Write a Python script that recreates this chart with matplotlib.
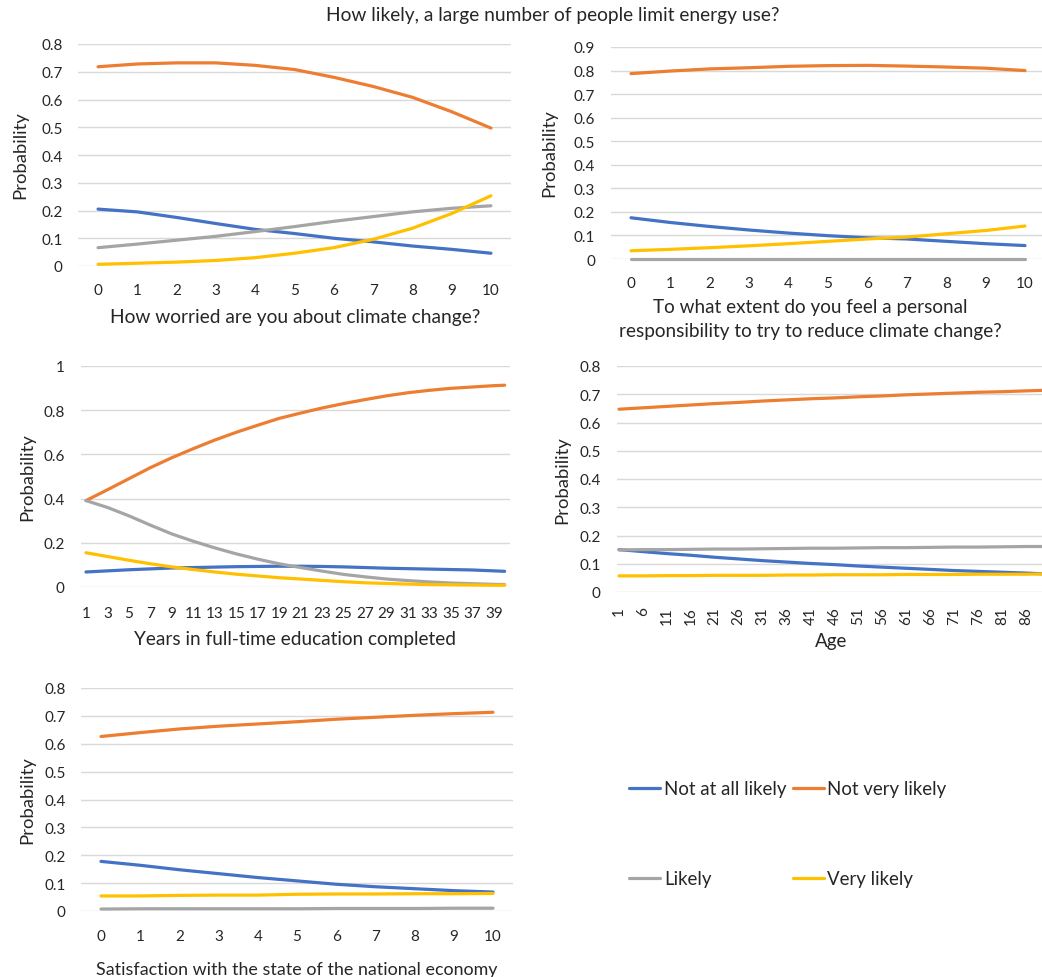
import matplotlib
matplotlib.use("Agg")
import matplotlib.pyplot as plt

plt.rcParams["font.family"] = ["Lato", "DejaVu Sans"]

W, H = 1042, 978
TEXT = "#262626"

series_names = ["Not at all likely", "Not very likely", "Likely", "Very likely"]
series_colors = ["#4472C4", "#ED7D31", "#A5A5A5", "#FFC000"]

# panel 1: worry about climate change (0-10)
worry_x = list(range(11))
worry_not_at_all = [0.205, 0.195, 0.175, 0.153, 0.132, 0.117, 0.100, 0.087, 0.072, 0.060, 0.046]
worry_not_very = [0.718, 0.728, 0.732, 0.732, 0.723, 0.708, 0.680, 0.647, 0.608, 0.556, 0.497]
worry_likely = [0.066, 0.079, 0.093, 0.107, 0.124, 0.142, 0.161, 0.178, 0.195, 0.208, 0.217]
worry_very = [0.006, 0.010, 0.014, 0.020, 0.030, 0.046, 0.066, 0.096, 0.136, 0.189, 0.253]

# panel 2: personal responsibility (0-10)
resp_x = list(range(11))
resp_not_at_all = [0.175, 0.155, 0.138, 0.123, 0.110, 0.099, 0.090, 0.085, 0.075, 0.065, 0.057]
resp_not_very = [0.787, 0.798, 0.807, 0.812, 0.818, 0.821, 0.822, 0.819, 0.815, 0.810, 0.800]
resp_likely = [0.002, 0.002, 0.002, 0.002, 0.002, 0.002, 0.002, 0.002, 0.002, 0.002, 0.002]
resp_very = [0.035, 0.041, 0.048, 0.056, 0.065, 0.075, 0.085, 0.093, 0.107, 0.121, 0.140]

# panel 3: years in full-time education
edu_x = [1, 3, 5, 7, 9, 11, 13, 15, 17, 19, 21, 23, 25, 27, 29, 31, 33, 35, 37, 39, 40]
edu_not_at_all = [0.068, 0.073, 0.078, 0.082, 0.086, 0.088, 0.090, 0.092, 0.093, 0.094, 0.094,
                  0.093, 0.091, 0.088, 0.085, 0.083, 0.081, 0.079, 0.077, 0.073, 0.071]
edu_not_very = [0.391, 0.440, 0.490, 0.540, 0.585, 0.626, 0.665, 0.700, 0.732, 0.763, 0.787,
                0.810, 0.830, 0.848, 0.865, 0.879, 0.890, 0.899, 0.905, 0.911, 0.913]
edu_likely = [0.391, 0.360, 0.322, 0.280, 0.240, 0.207, 0.177, 0.150, 0.126, 0.105, 0.088,
              0.072, 0.057, 0.046, 0.036, 0.029, 0.023, 0.018, 0.015, 0.012, 0.011]
edu_very = [0.155, 0.138, 0.121, 0.105, 0.091, 0.079, 0.068, 0.058, 0.050, 0.042, 0.036,
            0.030, 0.024, 0.019, 0.016, 0.013, 0.011, 0.010, 0.009, 0.008, 0.008]

# panel 4: age
age_x = [1, 6, 11, 16, 21, 26, 31, 36, 41, 46, 51, 56, 61, 66, 71, 76, 81, 86, 90]
age_not_at_all = [0.150, 0.143, 0.136, 0.130, 0.123, 0.117, 0.111, 0.106, 0.101, 0.097,
                  0.092, 0.088, 0.084, 0.080, 0.076, 0.073, 0.070, 0.067, 0.064]
age_not_very = [0.647, 0.652, 0.657, 0.662, 0.667, 0.671, 0.676, 0.680, 0.684, 0.687,
                0.691, 0.694, 0.698, 0.701, 0.704, 0.707, 0.709, 0.712, 0.714]
age_likely = [0.149, 0.150, 0.150, 0.151, 0.152, 0.152, 0.153, 0.154, 0.155, 0.155,
              0.156, 0.157, 0.157, 0.158, 0.159, 0.159, 0.160, 0.161, 0.161]
age_very = [0.057, 0.057, 0.058, 0.058, 0.059, 0.059, 0.059, 0.060, 0.060, 0.061,
            0.061, 0.061, 0.062, 0.062, 0.062, 0.063, 0.063, 0.063, 0.064]

# panel 5: satisfaction with national economy (0-10)
econ_x = list(range(11))
econ_not_at_all = [0.178, 0.164, 0.148, 0.134, 0.120, 0.108, 0.096, 0.087, 0.080, 0.073, 0.068]
econ_not_very = [0.626, 0.640, 0.653, 0.663, 0.671, 0.679, 0.688, 0.695, 0.702, 0.708, 0.713]
econ_likely = [0.007, 0.008, 0.008, 0.008, 0.008, 0.008, 0.009, 0.009, 0.009, 0.010, 0.010]
econ_very = [0.054, 0.054, 0.056, 0.057, 0.057, 0.060, 0.061, 0.061, 0.062, 0.062, 0.063]


fig = plt.figure(figsize=(W / 100, H / 100), dpi=100)


def px_axes(left, right, top, bottom):
    return fig.add_axes([left / W, 1 - bottom / H, (right - left) / W, (bottom - top) / H])


def fmt(v):
    return f"{v:g}"


def draw_panel(box, x, ys, xlim, yticks, xticks, rot=0, xpad=12):
    ax = px_axes(*box)
    lines = []
    for y, c in zip(ys, series_colors):
        (ln,) = ax.plot(x, y, color=c, lw=2.3, solid_capstyle="round", clip_on=False)
        lines.append(ln)
    ax.set_xlim(*xlim)
    ax.set_ylim(yticks[0], yticks[-1])
    ax.set_yticks(yticks)
    ax.set_yticklabels([fmt(v) for v in yticks])
    ax.set_xticks(xticks)
    ax.set_xticklabels([str(v) for v in xticks], rotation=rot)
    ax.grid(axis="y", color="#D9D9D9", lw=1.0)
    ax.set_axisbelow(True)
    for s in ax.spines.values():
        s.set_visible(False)
    ax.tick_params(length=0, labelsize=11, labelcolor=TEXT)
    ax.tick_params(axis="y", pad=11.5)
    ax.tick_params(axis="x", pad=xpad)
    return ax, lines


def ftext(x, y, s, **kw):
    kw.setdefault("ha", "center")
    kw.setdefault("va", "center")
    kw.setdefault("fontsize", 13.6)
    kw.setdefault("color", TEXT)
    fig.text(x / W, 1 - y / H, s, **kw)


yt8 = [0, 0.1, 0.2, 0.3, 0.4, 0.5, 0.6, 0.7, 0.8]
yt9 = yt8 + [0.9]

ax1, lines = draw_panel((78.4, 510.6, 45, 267), worry_x,
                        [worry_not_at_all, worry_not_very, worry_likely, worry_very],
                        (-0.5, 10.5), yt8, worry_x)
draw_panel((611.3, 1044.7, 48, 260), resp_x,
           [resp_not_at_all, resp_not_very, resp_likely, resp_very],
           (-0.5, 10.5), yt9, resp_x)
draw_panel((80.6, 510, 367, 588), edu_x,
           [edu_not_at_all, edu_not_very, edu_likely, edu_very],
           (0.5, 40.5), [0, 0.2, 0.4, 0.6, 0.8, 1], list(range(1, 40, 2)), xpad=13.5)
draw_panel((616.6, 1047.3, 367, 593), age_x,
           [age_not_at_all, age_not_very, age_likely, age_very],
           (0.5, 90.5), yt8, list(range(1, 87, 5)), rot=90, xpad=10)
draw_panel((81.4, 512.6, 689, 912), econ_x,
           [econ_not_at_all, econ_not_very, econ_likely, econ_very],
           (-0.5, 10.5), yt8, econ_x, xpad=13)

ftext(553, 15, "How likely, a large number of people limit energy use?", fontsize=13.8)

ftext(295, 318, "How worried are you about climate change?", fontsize=13.8)
ftext(810, 307, "To what extent do you feel a personal")
ftext(810, 332, "responsibility to try to reduce climate change?")
ftext(295, 640, "Years in full-time education completed", fontsize=13.7)
ftext(831, 642, "Age", fontsize=13.5)
ftext(297, 970, "Satisfaction with the state of the national economy", fontsize=12.9)

for x, y in [(20, 155), (549, 153), (27, 477), (562, 480), (27, 800)]:
    ftext(x, y, "Probability", rotation=90, fontsize=13.3)

order = [0, 2, 1, 3]
fig.legend([lines[i] for i in order], [series_names[i] for i in order],
           ncol=2, loc="upper left", bbox_to_anchor=(622 / W, 1 - 774 / H),
           frameon=False, fontsize=13.4, handlelength=1.65, handletextpad=0.2,
           columnspacing=0.35, labelspacing=3.9, labelcolor=TEXT, borderaxespad=0)

fig.savefig("out.png", dpi=100)
